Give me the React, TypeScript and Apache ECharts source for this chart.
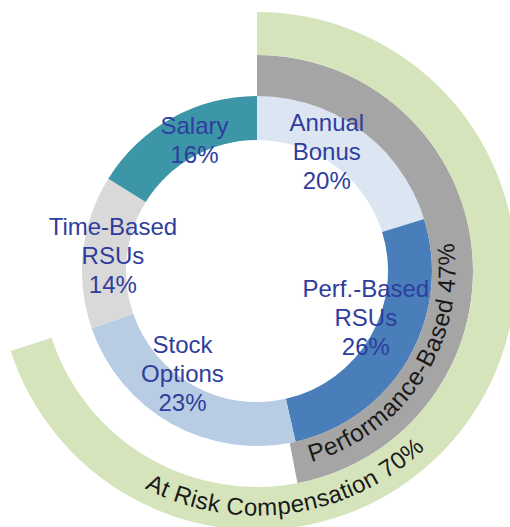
import React, { useEffect, useRef } from "react";
import * as echarts from "echarts";

// ---- data ----
const categories = ["Annual\nBonus", "Perf.-Based\nRSUs", "Stock\nOptions", "Time-Based\nRSUs", "Salary"];
const shares = [20, 26, 23, 14, 16];
const componentColors = ["#dce6f2", "#4a7ebb", "#b8cce4", "#d9d9d9", "#3c96a8"];
const performanceLabel = "Performance-Based";
const performanceShare = 47;
const atRiskLabel = "At Risk Compensation";
const atRiskShare = 70;

// ---- layout ----
const W = 510;
const H = 527;
const CX = 257;
const CY = 271;
const R_IN0 = 131;
const R_IN1 = 175;
const R_G1 = 216;
const R_O1 = 259;
const FONT_FAMILY = '"Liberation Sans", Arial, Helvetica, sans-serif';
const LABEL_COLOR = "#2f3d9c";
// small label nudges (px) per slice, to mimic the reference placement
const labelNudgeX = [-15, -15, -5, -2, 7];
const labelNudgeY = [-4, -25, -22, 0, -6];

function arcText(text: string, radius: number, centerDeg: number, fontSize: number, color: string) {
  const ctx = document.createElement("canvas").getContext("2d") as CanvasRenderingContext2D;
  const font = `${fontSize}px ${FONT_FAMILY}`;
  ctx.font = font;
  const chars = Array.from(text);
  const widths = chars.map((c) => ctx.measureText(c).width);
  const total = widths.reduce((a, b) => a + b, 0);
  let theta = (centerDeg * Math.PI) / 180 + total / radius / 2;
  const els: any[] = [];
  chars.forEach((c, i) => {
    const a = theta - widths[i] / 2 / radius;
    if (c !== " ") {
      els.push({
        type: "text",
        x: CX + radius * Math.sin(a),
        y: CY - radius * Math.cos(a),
        rotation: Math.PI - a,
        silent: true,
        z: 100,
        style: { text: c, font, fill: color, align: "center", verticalAlign: "middle" },
      });
    }
    theta -= widths[i] / radius;
  });
  return els;
}

export default function App() {
  const ref = useRef<HTMLDivElement>(null);
  useEffect(() => {
    document.body.style.margin = "0";
    const chart = echarts.init(ref.current!, undefined, { renderer: "svg" });
    const base = {
      type: "pie",
      center: [CX, CY],
      startAngle: 90,
      clockwise: true,
      silent: true,
      avoidLabelOverlap: false,
      label: { show: false },
      labelLine: { show: false },
      emphasis: { disabled: true },
    };
    chart.setOption({
      animation: false,
      series: [
        {
          ...base,
          radius: [R_IN0, R_IN1],
          data: shares.map((v, i) => ({ value: v, name: categories[i], itemStyle: { color: componentColors[i] } })),
        },
        {
          ...base,
          radius: [R_IN1, R_G1],
          data: [
            { value: performanceShare, name: performanceLabel, itemStyle: { color: "#a5a5a5" } },
            { value: 100 - performanceShare, name: "rest", itemStyle: { color: "rgba(0,0,0,0)" } },
          ],
        },
        {
          ...base,
          radius: [R_G1, R_O1],
          data: [
            { value: atRiskShare, name: atRiskLabel, itemStyle: { color: "#d6e4bc" } },
            { value: 100 - atRiskShare, name: "rest", itemStyle: { color: "rgba(0,0,0,0)" } },
          ],
        },
        {
          ...base,
          radius: [105, 175],
          z: 10,
          itemStyle: { color: "rgba(0,0,0,0)" },
          label: {
            show: true,
            position: "inside",
            formatter: "{b}\n{c}%",
            color: LABEL_COLOR,
            fontSize: 24,
            lineHeight: 29,
            fontFamily: FONT_FAMILY,
            textBorderWidth: 0,
            align: "center",
          },
          labelLayout: (p: any) => ({ dx: labelNudgeX[p.dataIndex], dy: labelNudgeY[p.dataIndex] }),
          data: shares.map((v, i) => ({ value: v, name: categories[i] })),
        },
      ],
      graphic: [
        ...arcText(`${performanceLabel} ${performanceShare}%`, 190, 123, 24.5, "#1a1a1a"),
        ...arcText(`${atRiskLabel} ${atRiskShare}%`, 236, 172, 24, "#1a1a1a"),
      ],
    });
    return () => chart.dispose();
  }, []);
  return <div ref={ref} style={{ width: W, height: H }} />;
}
